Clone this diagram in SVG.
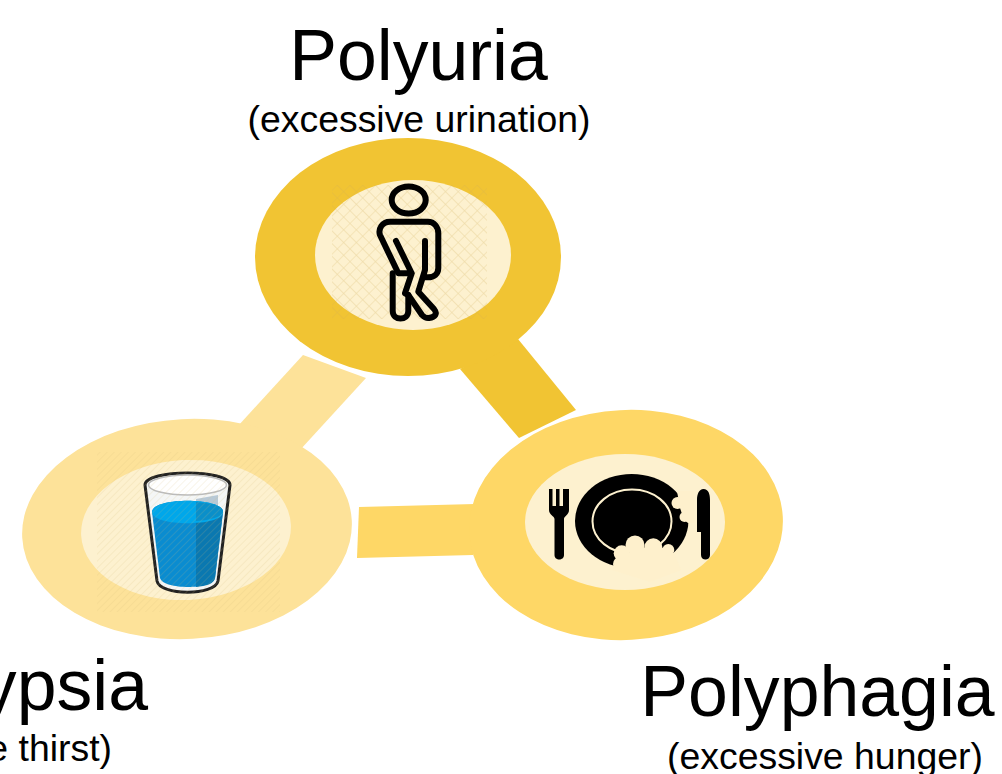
<svg xmlns="http://www.w3.org/2000/svg" width="1002" height="774" viewBox="0 0 1002 774">
<style>
text{font-family:"Liberation Sans",Arial,sans-serif;fill:#000}
.t{font-size:71.6px}
.s{font-size:37.4px}
.ln{fill:none;stroke:#000;stroke-width:6;stroke-linecap:round;stroke-linejoin:round}
.c1{fill:#f1c433}
.c2{fill:#fde299}
.c3{fill:#fed766}
.in{fill:#fdf1cf}
.bump{fill:#fef0cc}
</style>
<defs>
<pattern id="cross" width="9" height="9" patternUnits="userSpaceOnUse" patternTransform="rotate(45)">
<path d="M0 0H9M0 0V9" stroke="#cfae55" stroke-opacity=".3" stroke-width="1.300" fill="none"/>
</pattern>
<pattern id="diag" width="5" height="5" patternUnits="userSpaceOnUse" patternTransform="rotate(-45)">
<path d="M0 0H5" stroke="#d8bd78" stroke-opacity=".25" stroke-width="1.300" fill="none"/>
</pattern>
</defs>
<g id="connectors">
<polygon class="c2" points="303,355 366,378 300,450 238,426"/>
<polygon class="c1" points="518,339 576,410 519,438 460,369"/>
<polygon class="c3" points="359,507 475,504 473,555 357,558"/>
</g>
<g id="polyuria">
<ellipse class="c1" cx="408" cy="257" rx="153" ry="119"/>
<ellipse class="in" cx="413" cy="255" rx="98" ry="75"/>
<rect x="332" y="185" width="155" height="134" fill="url(#cross)"/>
<ellipse class="ln" cx="408.700" cy="200" rx="17" ry="13.500"/>
<path class="ln" d="M396 241L411.700 273.300H398.300L380 235C378 229 382 221.700 390 221.700H428C434 221.700 438.300 227 438.300 233.300V268C438.300 274 434 277.300 428 277.300H425M425 241V270L418.300 291.700L434 309C438 314 435 317 429 318C426 318.500 424 317 422 315L408.300 295L405 293.300L411.700 273.300"/>
<path class="ln" d="M392.700 273.300V311C392.700 321 408.300 321 408.300 311V295"/>
<text class="t" x="418.500" y="80" text-anchor="middle">Polyuria</text>
<text class="s" x="419" y="132" text-anchor="middle">(excessive urination)</text>
</g>
<g id="polydipsia">
<ellipse class="c2" cx="187" cy="529" rx="165" ry="110" transform="rotate(-3 187 529)"/>
<ellipse class="in" cx="186" cy="530" rx="105" ry="70" transform="rotate(-3 186 530)"/>
<path d="M145 485C145 469 230 469 230 485L218 581C215 596 160 596 157 581Z" fill="#f4f6f6" stroke="#222" stroke-width="3" stroke-linejoin="round"/>
<ellipse cx="187.500" cy="485" rx="39" ry="10" fill="#fff" stroke="#bbb" stroke-width="1.500"/>
<path d="M196 499L218 495L218 512L196 512Z" fill="#b8c9d6"/>
<path d="M152 512C152 497 223 497 223 512L215 578C213 590 163 590 160 578Z" fill="#0a8cd0"/>
<path d="M196 502C212 503 223 506 223 512L215 578C214 584 206 586 196 587Z" fill="#0a78b0"/>
<path d="M152 512C152 497 223 497 223 512C223 527 152 527 152 512Z" fill="#00a7ea"/>
<path d="M196 502C212 503 223 506 223 512C222 517 210 520 196 521Z" fill="#0a8fc9"/>
<rect x="97" y="452" width="183" height="160" fill="url(#diag)"/>
<text class="t" x="148" y="710" text-anchor="end">Polydypsia</text>
<text class="s" x="112" y="761" text-anchor="end">(excessive thirst)</text>
</g>
<g id="polyphagia">
<ellipse class="c3" cx="626" cy="525" rx="157" ry="115" transform="rotate(-3 626 525)"/>
<ellipse class="in" cx="625" cy="522" rx="100" ry="68"/>
<ellipse cx="631.700" cy="521" rx="56.700" ry="47" fill="#000"/>
<ellipse cx="632" cy="521.500" rx="39.500" ry="32" fill="none" stroke="#fdf1cf" stroke-width="2"/>
<path class="bump" d="M677 491H694V523H688L684 520L680 508Z"/>
<circle class="bump" cx="677.500" cy="503" r="6"/>
<circle class="bump" cx="684.500" cy="517" r="5"/>
<path class="bump" d="M612 570L620 556L640 548L668 548L675 555L681 570L650 582Z"/>
<circle class="bump" cx="635" cy="545" r="9.500"/>
<circle class="bump" cx="653.300" cy="547.300" r="9"/>
<circle class="bump" cx="621.700" cy="553.300" r="8"/>
<circle class="bump" cx="620" cy="564" r="7"/>
<circle class="bump" cx="668.300" cy="550" r="6"/>
<path d="M549 489H552.500V506H556V489H559.500V506H563V489H569V510C569 515 564 516 564 519V555C564 561 554.500 561 554.500 555V519C554.500 516 549 515 549 510Z" fill="#000"/>
<path d="M703.500 489C708.500 489 710 494 710 500V555C710 561 701 561 701 555V532H697V500C697 494 699 489 703.500 489Z" fill="#000"/>
<text class="t" x="817.500" y="716" text-anchor="middle">Polyphagia</text>
<text class="s" x="825" y="769" text-anchor="middle">(excessive hunger)</text>
</g>
</svg>
